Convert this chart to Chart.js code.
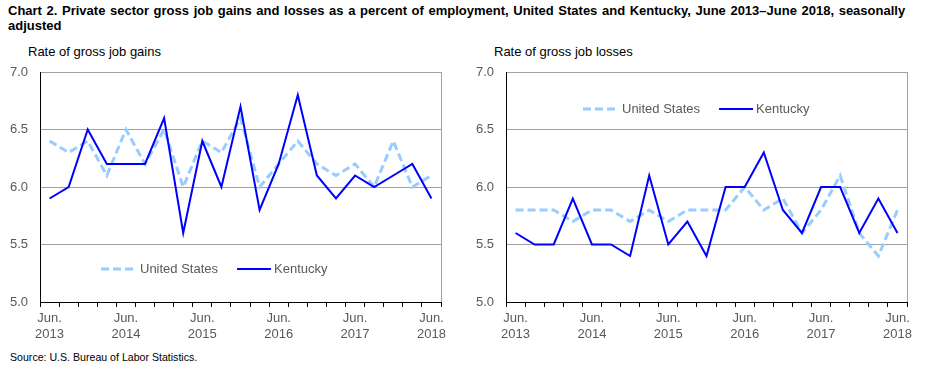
<!DOCTYPE html>
<html>
<head>
<meta charset="utf-8">
<script src="https://cdn.jsdelivr.net/npm/chart.js@4.4.0/dist/chart.umd.min.js"></script>
<style>
  body { margin: 0; background: #fff; font-family: Arial, "Liberation Sans", sans-serif; }
  #page { position: relative; width: 930px; height: 372px; overflow: hidden; }
  .title { position: absolute; left: 8px; top: 3px; font-size: 13px; font-weight: bold; line-height: 15px; word-spacing: 1px; color: #000; white-space: nowrap; }
  .axisTitle { position: absolute; top: 44px; font-size: 13px; color: #000; }
  .source { position: absolute; left: 10px; top: 351px; font-size: 10.6px; color: #000; }
  .box { position: absolute; top: 40px; width: 465px; height: 300px; }
</style>
</head>
<body>
<div id="page">
  <div class="title">Chart 2. Private sector gross job gains and losses as a percent of employment, United States and Kentucky, June 2013–June 2018, seasonally<br>adjusted</div>
  <div class="axisTitle" style="left:28px">Rate of gross job gains</div>
  <div class="axisTitle" style="left:494px">Rate of gross job losses</div>
  <div class="box" style="left:0"><canvas id="gains" width="465" height="300"></canvas></div>
  <div class="box" style="left:465px"><canvas id="losses" width="465" height="300"></canvas></div>
  <div class="source">Source: U.S. Bureau of Labor Statistics.</div>
</div>
<script>
// quarters, June 2013 to June 2018
const quarters = ['Jun 2013','Sep 2013','Dec 2013','Mar 2014',
  'Jun 2014','Sep 2014','Dec 2014','Mar 2015',
  'Jun 2015','Sep 2015','Dec 2015','Mar 2016',
  'Jun 2016','Sep 2016','Dec 2016','Mar 2017',
  'Jun 2017','Sep 2017','Dec 2017','Mar 2018','Jun 2018'];

const gainsUS = [6.4,6.3,6.4,6.1,6.5,6.2,6.5,6.0,6.4,6.3,6.6,6.0,6.2,6.4,6.2,6.1,6.2,6.0,6.4,6.0,6.1];
const gainsKY = [5.9,6.0,6.5,6.2,6.2,6.2,6.6,5.6,6.4,6.0,6.7,5.8,6.2,6.8,6.1,5.9,6.1,6.0,6.1,6.2,5.9];

const lossesUS = [5.8,5.8,5.8,5.7,5.8,5.8,5.7,5.8,5.7,5.8,5.8,5.8,6.0,5.8,5.9,5.6,5.8,6.1,5.6,5.4,5.8];
const lossesKY = [5.6,5.5,5.5,5.9,5.5,5.5,5.4,6.1,5.5,5.7,5.4,6.0,6.0,6.3,5.8,5.6,6.0,6.0,5.6,5.9,5.6];

const yTicks = [5.0, 5.5, 6.0, 6.5, 7.0];

const FONT = 'Arial, "Liberation Sans", sans-serif';
const TICK_COLOR = '#595959';

// gray right edge + legend drawn inside the plot area
const frameAndLegend = {
  id: 'frameAndLegend',
  afterDatasetsDraw(chart, args, opts) {
    const ctx = chart.ctx, a = chart.chartArea;
    ctx.save();
    ctx.strokeStyle = '#A0A0A0';
    ctx.lineWidth = 1;
    ctx.beginPath();
    ctx.moveTo(Math.round(a.right) + 0.5, a.top);
    ctx.lineTo(Math.round(a.right) + 0.5, a.bottom);
    ctx.stroke();

    let x = a.left + opts.x;
    const y = a.top + opts.y;
    ctx.font = '13px ' + FONT;
    ctx.textBaseline = 'middle';
    const items = [chart.data.datasets[1], chart.data.datasets[0]];
    items.forEach(ds => {
      ctx.strokeStyle = ds.borderColor;
      ctx.lineWidth = ds.borderWidth;
      ctx.setLineDash(ds.borderDash || []);
      ctx.beginPath();
      ctx.moveTo(x, y);
      ctx.lineTo(x + 34, y);
      ctx.stroke();
      ctx.setLineDash([]);
      const tx = x + (ds.borderDash ? 39 : 37);
      ctx.fillStyle = TICK_COLOR;
      ctx.fillText(ds.label, tx, y);
      x = tx + ctx.measureText(ds.label).width + 19;
    });
    ctx.restore();
  }
};

function makeChart(id, us, ky, yWidth, rightPad, legendPos) {
  return new Chart(document.getElementById(id), {
    type: 'line',
    data: {
      labels: quarters,
      datasets: [
        { label: 'Kentucky', data: ky, borderColor: '#0000FF', borderWidth: 2,
          pointRadius: 0, tension: 0, order: 0 },
        { label: 'United States', data: us, borderColor: '#99CCFF', borderWidth: 3,
          borderDash: [8, 4], pointRadius: 0, tension: 0, order: 1 }
      ]
    },
    options: {
      responsive: false,
      animation: false,
      layout: { padding: { left: 0, top: 32, right: rightPad, bottom: 0 } },
      plugins: {
        legend: { display: false },
        tooltip: { enabled: false },
        frameAndLegend: legendPos
      },
      scales: {
        x: {
          offset: true,
          grid: { display: true, drawOnChartArea: false, drawTicks: true, tickLength: 5,
                  color: '#000', offset: true },
          border: { color: '#000', width: 1 },
          ticks: {
            autoSkip: false, maxRotation: 0, padding: 3, color: TICK_COLOR,
            font: { family: FONT, size: 13, lineHeight: 1.25 },
            callback: (v, i) => {
              const q = quarters[i].split(' ');
              return q[0] === 'Jun' ? ['Jun.', q[1]] : '';
            }
          },
          afterFit: s => { s.height = 38; }
        },
        y: {
          min: yTicks[0], max: yTicks[yTicks.length - 1],
          afterBuildTicks: s => { s.ticks = yTicks.map(v => ({ value: v })); },
          grid: { color: '#A0A0A0', drawTicks: false },
          border: { color: '#000', width: 1 },
          ticks: {
            padding: 12, color: TICK_COLOR,
            font: { family: FONT, size: 13 },
            callback: v => Number(v).toFixed(1)
          },
          afterFit: s => { s.width = yWidth; }
        }
      }
    },
    plugins: [frameAndLegend]
  });
}

makeChart('gains', gainsUS, gainsKY, 40, 24, { x: 61, y: 197 });
makeChart('losses', lossesUS, lossesKY, 41, 23, { x: 77, y: 37 });
</script>
</body>
</html>
